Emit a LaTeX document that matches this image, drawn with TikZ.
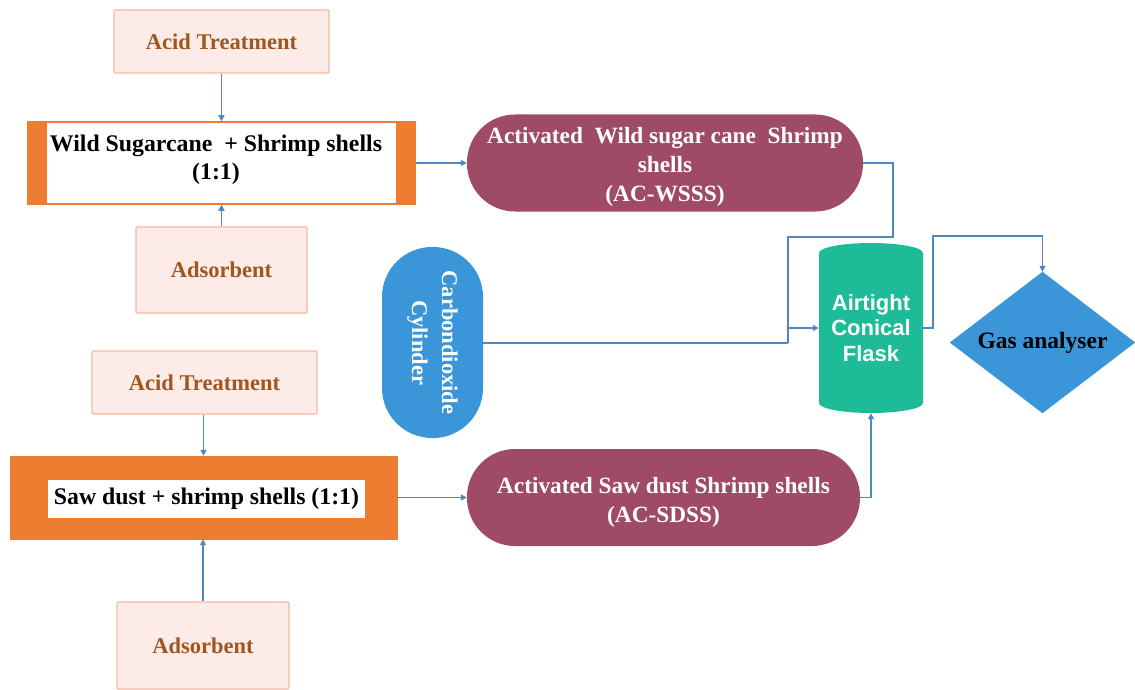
\documentclass[tikz,border=0pt]{standalone}
\usepackage{fontspec}
\setmainfont{Liberation Serif}
\newfontfamily\flasksans{Liberation Sans}
\usetikzlibrary{arrows.meta,shapes.geometric}
\definecolor{pinkfill}{HTML}{FCEBE6}
\definecolor{pinkline}{HTML}{F5B9A3}
\definecolor{browntext}{HTML}{A0561F}
\definecolor{orangeA}{HTML}{ED7D31}
\definecolor{maroon}{HTML}{9F4B67}
\definecolor{blueA}{HTML}{3B95D9}
\definecolor{tealA}{HTML}{1DBB98}
\definecolor{linkc}{HTML}{4F88C0}
\tikzset{
  pinkbox/.style={draw=pinkline, fill=pinkfill, line width=1.2pt, rounded corners=1pt,
    text=browntext, font=\fontsize{22.5}{26}\selectfont\bfseries, inner sep=0pt},
  pillbox/.style={fill=maroon, inner sep=0pt, rounded corners=48pt},
  pilltext/.style={text=white, align=center, inner sep=0pt,
    font=\fontsize{23.3}{29}\selectfont\bfseries},
  link/.style={draw=linkc, line width=1.4pt, -{Triangle[length=6pt,width=6pt]}},
  plain/.style={draw=linkc, line width=1.4pt},
}
\begin{document}
\begin{tikzpicture}[x=1pt,y=-1pt]
\useasboundingbox (0,0) rectangle (1135,690);
% top group
\node[pinkbox, minimum width=215pt, minimum height=63pt] (acid1) at (221.5,41.5) {Acid Treatment};
\node[draw=orangeA, fill=white, line width=1.5pt, minimum width=387pt, minimum height=82pt, inner sep=0pt] (wild) at (221.5,163) {};
\fill[orangeA] (wild.north west) rectangle ([xshift=20pt]wild.south west);
\fill[orangeA] ([xshift=-20pt]wild.north east) rectangle (wild.south east);
\node[align=center, font=\fontsize{23.8}{28}\selectfont\bfseries] (wildtxt) at (216,160) {Wild Sugarcane\ \ + Shrimp shells\\(1:1)};
\node[pinkbox, minimum width=171pt, minimum height=86pt] (ads1) at (221.5,270) {Adsorbent};
\node[pillbox, minimum width=396pt, minimum height=97pt] (wsss) at (665,163) {};
\node[pilltext] (wssstxt) at (665,167) {Activated\ \ Wild sugar cane\ \ Shrimp\\shells\\(AC-WSSS)};
% bottom group
\node[pinkbox, minimum width=225pt, minimum height=63pt] (acid2) at (204.5,382.5) {Acid Treatment};
\node[fill=orangeA, draw=orangeA, minimum width=387pt, minimum height=83pt, inner sep=0pt] (saw) at (203.5,497.5) {};
\node[fill=white, minimum width=317pt, minimum height=38pt, inner sep=0pt, font=\fontsize{23.8}{26}\selectfont\bfseries] (sawtxt) at (206.5,499) {Saw dust + shrimp shells (1:1)};
\node[pinkbox, minimum width=172pt, minimum height=87pt] (ads2) at (203,645.5) {Adsorbent};
\node[pillbox, minimum width=393pt, minimum height=97pt] (sdss) at (663.5,497.5) {};
\node[pilltext] (sdsstxt) at (663.5,502) {Activated Saw dust Shrimp shells\\(AC-SDSS)};
% cylinder
\node[fill=blueA, minimum width=101pt, minimum height=191pt, rounded corners=50pt, inner sep=0pt] (cyl) at (432.5,342.5) {};
\node[rotate=-90, text=white, align=center, font=\fontsize{22.5}{30}\selectfont\bfseries] (cyltxt) at (cyl.center) {Carbondioxide\\Cylinder};
% flask
\fill[tealA] (819,253) -- (819,403) arc[start angle=180, end angle=0, x radius=52, y radius=10] -- (923,253) arc[start angle=0, end angle=-180, x radius=52, y radius=10] -- cycle;
\node[minimum width=104pt, minimum height=170pt, inner sep=0pt, text=white, align=center, font=\fontsize{22}{25.5}\selectfont\flasksans\bfseries] (flask) at (871,328) {Airtight\\Conical\\Flask};
% gas analyser
\node[minimum width=185pt, minimum height=141pt, inner sep=0pt] (gas) at (1042.5,342.5) {};
\fill[blueA] (gas.north) -- (gas.east) -- (gas.south) -- (gas.west) -- cycle;
\node[font=\fontsize{23.5}{26}\selectfont\bfseries] (gastxt) at (gas.center) {Gas analyser};
% coordinates
\coordinate (c2) at (893,237);
\coordinate (c3) at (788,237);
\coordinate (c4) at (788,328);
\coordinate (c5) at (788,343);
\coordinate (c7) at (933,328);
\coordinate (c8) at (933,236);
% connectors
\draw[link] (acid1.south) -- (wild.north);
\draw[link] (ads1.north) -- (wild.south);
\draw[link] (wild.east) -- (wsss.west);
\draw[link] (acid2.south -| saw.north) -- (saw.north);
\draw[link] (ads2.north) -- (ads2.north |- saw.south);
\draw[link] (saw.east) -- (saw.east -| sdss.west);
\draw[plain] (wsss.east) -| (c2) -- (c3) -- (c5);
\draw[plain] (cyl.east |- c5) -- (c5);
\draw[link] (c4) -- (flask.west);
\draw[link] (sdss.east) -| (flask.south);
\draw[link] (flask.east) -- (c7) -- (c8) -| (gas.north);
\end{tikzpicture}
\end{document}
